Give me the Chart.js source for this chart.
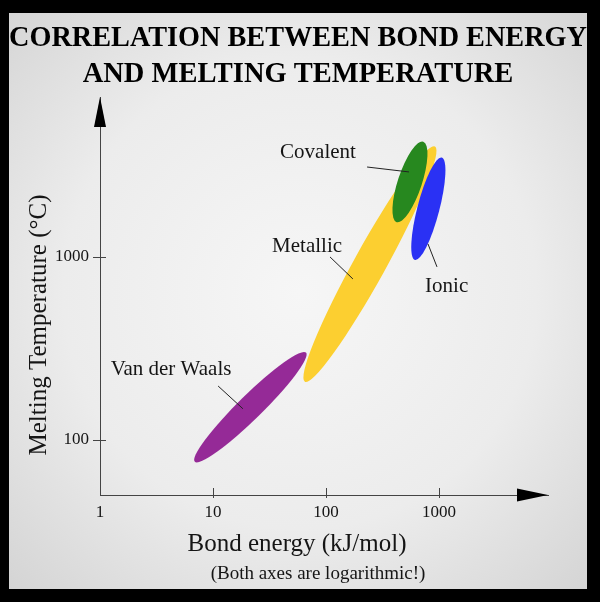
<!DOCTYPE html>
<html>
<head>
<meta charset="utf-8">
<script src="https://cdn.jsdelivr.net/npm/chart.js@4.4.1/dist/chart.umd.min.js"></script>
<style>
  html, body { margin: 0; padding: 0; background: #000; width: 600px; height: 602px; overflow: hidden; }
  #wrap { position: absolute; left: 9px; top: 13px; width: 578px; height: 576px; }
</style>
</head>
<body>
<div id="wrap"><canvas id="bondChart" width="578" height="576"></canvas></div>
<script>
// bond classes, each one a region between a low and a high corner (log-log)
const bondTypes = ['Van der Waals', 'Metallic', 'Covalent', 'Ionic'];
const energyMin = [6.9, 65, 422, 613];      // kJ/mol
const energyMax = [66.5, 922, 726, 1057];
const meltMin = [76, 208, 1549, 963];       // deg C
const meltMax = [300, 4010, 4266, 3490];

const xTickValues = [1, 10, 100, 1000];
const yTickValues = [100, 1000];

// where the names sit, and the short leader lines (in data units)
const labelEnergy = [4.25, 68, 85, 1170];
const labelMelt = [249, 1175, 3830, 706];
const leaderEnergy = [[11.1, 18.4], [108.5, 173], [231, 543], [960, 799]];
const leaderMelt = [[197, 148], [1000, 758], [3100, 2913], [882, 1178]];

const regionColors = ['#952a97', '#fccf30', '#27881f', '#2a31f4'];
const regionWidths = [24, 32, 24, 22];

const serif = "'Liberation Serif', 'Times New Roman', serif";
const ink = '#151515';
const axisColor = '#444';

const backdrop = {
  id: 'backdrop',
  beforeDraw(chart) {
    const { ctx, width, height } = chart;
    const g = ctx.createRadialGradient(291, 280, 0, 291, 280, 430);
    g.addColorStop(0, '#f6f6f6');
    g.addColorStop(0.55, '#ececec');
    g.addColorStop(1, '#d2d2d2');
    ctx.save();
    ctx.fillStyle = g;
    ctx.fillRect(0, 0, width, height);
    ctx.restore();
  }
};

const regions = {
  id: 'regions',
  afterDatasetsDraw(chart) {
    const { ctx, scales: { x, y } } = chart;
    ctx.save();
    chart.data.datasets.forEach((ds, i) => {
      const pts = chart.getDatasetMeta(i).data;
      const p0 = pts[0], p1 = pts[1];
      const cx = (p0.x + p1.x) / 2, cy = (p0.y + p1.y) / 2;
      const a = Math.hypot(p1.x - p0.x, p1.y - p0.y) / 2;
      const ang = Math.atan2(p1.y - p0.y, p1.x - p0.x);
      ctx.beginPath();
      ctx.ellipse(cx, cy, a, regionWidths[i] / 2, ang, 0, Math.PI * 2);
      ctx.fillStyle = ds.backgroundColor;
      ctx.fill();
    });

    // leaders + names
    ctx.strokeStyle = '#222';
    ctx.lineWidth = 1;
    ctx.fillStyle = ink;
    ctx.font = '21px ' + serif;
    ctx.textAlign = 'center';
    ctx.textBaseline = 'middle';
    bondTypes.forEach((name, i) => {
      ctx.beginPath();
      ctx.moveTo(x.getPixelForValue(leaderEnergy[i][0]), y.getPixelForValue(leaderMelt[i][0]));
      ctx.lineTo(x.getPixelForValue(leaderEnergy[i][1]), y.getPixelForValue(leaderMelt[i][1]));
      ctx.stroke();
      ctx.fillText(name, x.getPixelForValue(labelEnergy[i]), y.getPixelForValue(labelMelt[i]) + 2);
    });
    ctx.restore();
  }
};

const axisDecor = {
  id: 'axisDecor',
  afterDraw(chart) {
    const { ctx, chartArea: ca, scales: { x, y } } = chart;
    ctx.save();
    ctx.strokeStyle = axisColor;
    ctx.lineWidth = 1;
    xTickValues.slice(1).forEach(v => {
      const px = Math.round(x.getPixelForValue(v)) + 0.5;
      ctx.beginPath();
      ctx.moveTo(px, ca.bottom - 7);
      ctx.lineTo(px, ca.bottom + 3);
      ctx.stroke();
    });
    yTickValues.forEach(v => {
      const py = Math.round(y.getPixelForValue(v)) + 0.5;
      ctx.beginPath();
      ctx.moveTo(ca.left - 7, py);
      ctx.lineTo(ca.left + 6, py);
      ctx.stroke();
    });

    // arrow heads
    ctx.fillStyle = '#000';
    ctx.beginPath();
    ctx.moveTo(ca.right, ca.bottom);
    ctx.lineTo(ca.right - 31, ca.bottom - 6.5);
    ctx.lineTo(ca.right - 31, ca.bottom + 6.5);
    ctx.closePath();
    ctx.fill();
    ctx.beginPath();
    ctx.moveTo(ca.left, ca.top);
    ctx.lineTo(ca.left - 6, ca.top + 30);
    ctx.lineTo(ca.left + 6, ca.top + 30);
    ctx.closePath();
    ctx.fill();

    // axis titles
    ctx.fillStyle = ink;
    ctx.textAlign = 'center';
    ctx.textBaseline = 'middle';
    ctx.font = '25px ' + serif;
    ctx.fillText('Bond energy (kJ/mol)', 288, ca.bottom + 49);
    ctx.font = '19px ' + serif;
    ctx.fillText('(Both axes are logarithmic!)', 309, ca.bottom + 79);
    ctx.translate(30, 312);
    ctx.rotate(-Math.PI / 2);
    ctx.font = '25px ' + serif;
    ctx.fillText('Melting Temperature (\u00B0C)', 0, 0);
    ctx.restore();
  }
};

const ctx = document.getElementById('bondChart').getContext('2d');

const chart = new Chart(ctx, {
  type: 'scatter',
  data: {
    datasets: bondTypes.map((name, i) => ({
      label: name,
      data: [
        { x: energyMin[i], y: meltMin[i] },
        { x: energyMax[i], y: meltMax[i] }
      ],
      backgroundColor: regionColors[i],
      pointRadius: 0,
      pointHoverRadius: 0,
      showLine: false
    }))
  },
  options: {
    responsive: false,
    animation: false,
    layout: { padding: 0 },
    plugins: {
      legend: { display: false },
      tooltip: { enabled: false },
      title: {
        display: true,
        text: ['CORRELATION BETWEEN BOND ENERGY', 'AND MELTING TEMPERATURE'],
        color: '#000',
        font: { family: serif, size: 28.5, weight: 'bold', lineHeight: '36px' },
        padding: { top: 8, bottom: 4 }
      }
    },
    scales: {
      x: {
        type: 'logarithmic',
        min: 1,
        max: 9220,
        grid: { display: false, drawTicks: false },
        border: { display: true, color: axisColor, width: 1 },
        afterBuildTicks: s => { s.ticks = xTickValues.map(v => ({ value: v })); },
        afterFit: s => { s.height = 94; },
        ticks: {
          autoSkip: false,
          maxRotation: 0,
          padding: 7,
          color: ink,
          font: { family: serif, size: 17 },
          callback: v => String(v)
        }
      },
      y: {
        type: 'logarithmic',
        min: 50,
        max: 7480,
        grid: { display: false, drawTicks: false },
        border: { display: true, color: axisColor, width: 1 },
        afterBuildTicks: s => { s.ticks = yTickValues.map(v => ({ value: v })); },
        afterFit: s => { s.width = 91; },
        ticks: {
          autoSkip: false,
          padding: 11,
          color: ink,
          font: { family: serif, size: 17 },
          callback: v => String(v)
        }
      },
      // empty strip on the right so the plot ends where the arrow tip is
      spacer: {
        type: 'linear',
        position: 'right',
        grid: { display: false, drawTicks: false },
        border: { display: false },
        ticks: { display: false },
        afterFit: s => { s.width = 39; }
      }
    }
  },
  plugins: [backdrop, regions, axisDecor]
});
</script>
</body>
</html>
